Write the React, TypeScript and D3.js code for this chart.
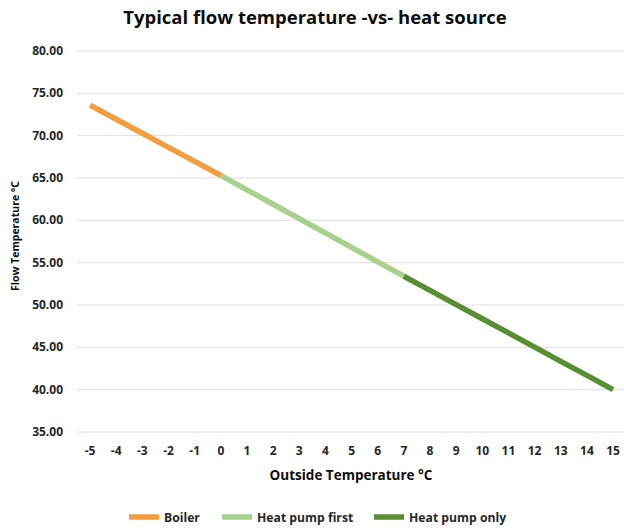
import React, { useEffect, useRef } from "react";
import * as d3 from "d3";

const outsideTemps = [-5, -4, -3, -2, -1, 0, 1, 2, 3, 4, 5, 6, 7, 8, 9, 10, 11, 12, 13, 14, 15];

// flow temperature, split per heat source
const boiler = [73.6, 71.94, 70.28, 68.62, 66.96, 65.3];
const heatPumpFirst = [65.3, 63.6, 61.9, 60.2, 58.5, 56.8, 55.1, 53.4];
const heatPumpOnly = [53.4, 51.73, 50.05, 48.38, 46.7, 45.03, 43.35, 41.68, 40.0];

const yTicks = [35, 40, 45, 50, 55, 60, 65, 70, 75, 80];

const series = [
  { name: "Boiler", color: "#F29D3E", from: -5, values: boiler },
  { name: "Heat pump first", color: "#A9D18E", from: 0, values: heatPumpFirst },
  { name: "Heat pump only", color: "#5A8E35", from: 7, values: heatPumpOnly },
];

const W = 624;
const H = 529;
const font = "'Open Sans', sans-serif";

const App = () => {
  const svg = useRef<SVGSVGElement>(null);

  useEffect(() => {
    const root = d3.select(svg.current);
    root.selectAll("*").remove();

    const x = d3
      .scaleBand<number>()
      .domain(outsideTemps)
      .range([77, 77 + 26.15 * outsideTemps.length]);
    const y = d3.scaleLinear().domain([35, 80]).range([432, 51]);
    const cx = (d: number) => (x(d) as number) + x.bandwidth() / 2;

    // gridlines
    root
      .append("g")
      .selectAll("line")
      .data(yTicks)
      .join("line")
      .attr("x1", 77)
      .attr("x2", W)
      .attr("y1", (d) => y(d))
      .attr("y2", (d) => y(d))
      .attr("stroke", "#dedede")
      .attr("stroke-width", 1);

    // y tick labels
    root
      .append("g")
      .selectAll("text")
      .data(yTicks)
      .join("text")
      .attr("x", 63)
      .attr("y", (d) => y(d) + 4)
      .attr("text-anchor", "end")
      .attr("font-family", font)
      .attr("font-weight", "bold")
      .attr("font-size", 12)
      .attr("fill", "#262626")
      .text((d) => d.toFixed(2));

    // x tick labels
    root
      .append("g")
      .selectAll("text")
      .data(outsideTemps)
      .join("text")
      .attr("x", (d) => cx(d))
      .attr("y", 455)
      .attr("text-anchor", "middle")
      .attr("font-family", font)
      .attr("font-weight", "bold")
      .attr("font-size", 12)
      .attr("fill", "#262626")
      .text((d) => String(d));

    // lines
    const line = d3
      .line<[number, number]>()
      .x((d) => cx(d[0]))
      .y((d) => y(d[1]));

    series.forEach((s) => {
      const pts: [number, number][] = s.values.map((v, i) => [s.from + i, v]);
      root
        .append("path")
        .datum(pts)
        .attr("fill", "none")
        .attr("stroke", s.color)
        .attr("stroke-width", 5.5)
        .attr("d", line);
    });

    // title
    root
      .append("text")
      .attr("x", 315)
      .attr("y", 24)
      .attr("text-anchor", "middle")
      .attr("font-family", font)
      .attr("font-weight", "bold")
      .attr("font-size", 18.5)
      .attr("fill", "#0d0d0d")
      .text("Typical flow temperature -vs- heat source");

    // axis titles
    root
      .append("text")
      .attr("x", 351)
      .attr("y", 480)
      .attr("text-anchor", "middle")
      .attr("font-family", font)
      .attr("font-weight", "bold")
      .attr("font-size", 13.5)
      .attr("fill", "#0d0d0d")
      .text("Outside Temperature °C");

    root
      .append("text")
      .attr("transform", "translate(19, 236) rotate(-90)")
      .attr("text-anchor", "middle")
      .attr("font-family", font)
      .attr("font-weight", "bold")
      .attr("font-size", 10.5)
      .attr("fill", "#0d0d0d")
      .text("Flow Temperature °C");

    // legend
    const legendX = [129, 222, 374];
    const lg = root
      .append("g")
      .selectAll("g")
      .data(series)
      .join("g")
      .attr("transform", (_d, i) => `translate(${legendX[i]}, 517)`);
    lg.append("line")
      .attr("x1", 0)
      .attr("x2", 30)
      .attr("stroke", (d) => d.color)
      .attr("stroke-width", 5.5);
    lg.append("text")
      .attr("x", 35)
      .attr("y", 4.5)
      .attr("font-family", font)
      .attr("font-weight", "bold")
      .attr("font-size", 12.2)
      .attr("fill", "#262626")
      .text((d) => d.name);
  }, []);

  return (
    <svg
      ref={svg}
      width={W}
      height={H}
      style={{ position: "absolute", left: 0, top: 0, background: "#fff" }}
    />
  );
};

export default App;
